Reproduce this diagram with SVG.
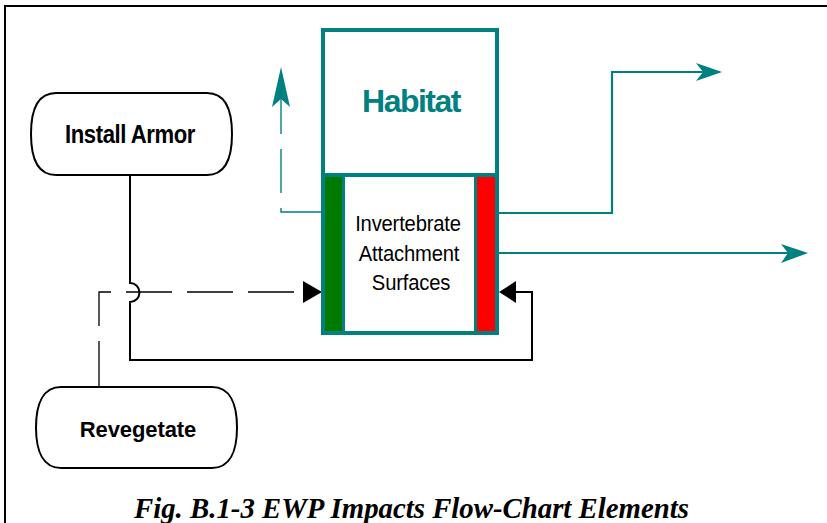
<svg xmlns="http://www.w3.org/2000/svg" width="827" height="523" viewBox="0 0 827 523">
<style>
.term{fill:#fff;stroke:#000;stroke-width:2}
.lbl{font-family:"Liberation Sans",Arial,sans-serif;font-weight:bold;fill:#000;text-anchor:middle}
.inv{font-family:"Liberation Sans",Arial,sans-serif;font-size:22px;letter-spacing:-0.2px;fill:#000;text-anchor:middle}
.teal{fill:none;stroke:#008080}
.blk{fill:none;stroke:#000}
</style>
<rect x="0" y="0" width="827" height="523" fill="#fff"/>
<path d="M5,523 V6 H827" fill="none" stroke="#000" stroke-width="2"/>

<g id="connectors">
  <path class="blk" stroke-width="2" d="M130,175 V283 A9.5,9.5 0 0 1 130,302 V360 H532 V292 H514"/>
  <path class="blk" stroke-width="1.3" stroke-dasharray="46 15" d="M99,387 V292 H303"/>
  <polygon points="322,292 303,281 303,303" fill="#000"/>
  <polygon points="499,292 516,281 516,303" fill="#000"/>
  <path class="teal" stroke-width="1.4" stroke-dasharray="44 15" d="M321,212 H281 V98"/>
  <polygon points="281,67 290,107 281,99 272,107" fill="#008080"/>
  <path class="teal" stroke-width="2.2" d="M499,213 H612 V72 H704"/>
  <polygon points="722,72 696,63 703,72 696,81" fill="#008080"/>
  <path class="teal" stroke-width="2.2" d="M499,253 H790"/>
  <polygon points="808,253 781,244 788,253 781,263" fill="#008080"/>
</g>

<g id="install-armor">
  <path class="term" d="M56,93 H207 C225,93 232,110 232,134 C232,158 225,175 207,175 H56 C38,175 31,158 31,134 C31,110 38,93 56,93 Z"/>
  <text class="lbl" font-size="26" letter-spacing="-0.5" transform="translate(130,143) scale(0.85,1)">Install Armor</text>
</g>

<g id="revegetate">
  <path class="term" d="M61,387 H212 C230,387 237,404 237,427.5 C237,451 230,468 212,468 H61 C43,468 36,451 36,427.5 C36,404 43,387 61,387 Z"/>
  <text class="lbl" x="138" y="437" font-size="22" letter-spacing="-0.1">Revegetate</text>
</g>

<g id="habitat">
  <rect x="323" y="30" width="174" height="303" fill="#fff" stroke="#008080" stroke-width="4"/>
  <text x="411" y="112" font-family="'Liberation Sans',Arial,sans-serif" font-weight="bold" font-size="32" letter-spacing="-1.5" fill="#008080" text-anchor="middle">Habitat</text>
</g>

<g id="invertebrate-attachment-surfaces">
  <line x1="323" y1="175" x2="497" y2="175" stroke="#008080" stroke-width="4"/>
  <rect x="325" y="177" width="17" height="154" fill="#007a00"/>
  <rect x="477" y="177" width="18" height="154" fill="#ff0000"/>
  <line x1="343.5" y1="177" x2="343.5" y2="331" stroke="#008080" stroke-width="3"/>
  <line x1="475.5" y1="177" x2="475.5" y2="331" stroke="#008080" stroke-width="3"/>
  <text class="inv" transform="translate(408,231) scale(0.92,1)">Invertebrate</text>
  <text class="inv" transform="translate(409,261) scale(0.92,1)">Attachment</text>
  <text class="inv" transform="translate(411,290) scale(0.92,1)">Surfaces</text>
</g>

<text x="411.5" y="518" font-family="'Liberation Serif','Times New Roman',serif" font-weight="bold" font-style="italic" font-size="28.8" text-anchor="middle" fill="#000">Fig. B.1-3 EWP Impacts Flow-Chart Elements</text>
</svg>
